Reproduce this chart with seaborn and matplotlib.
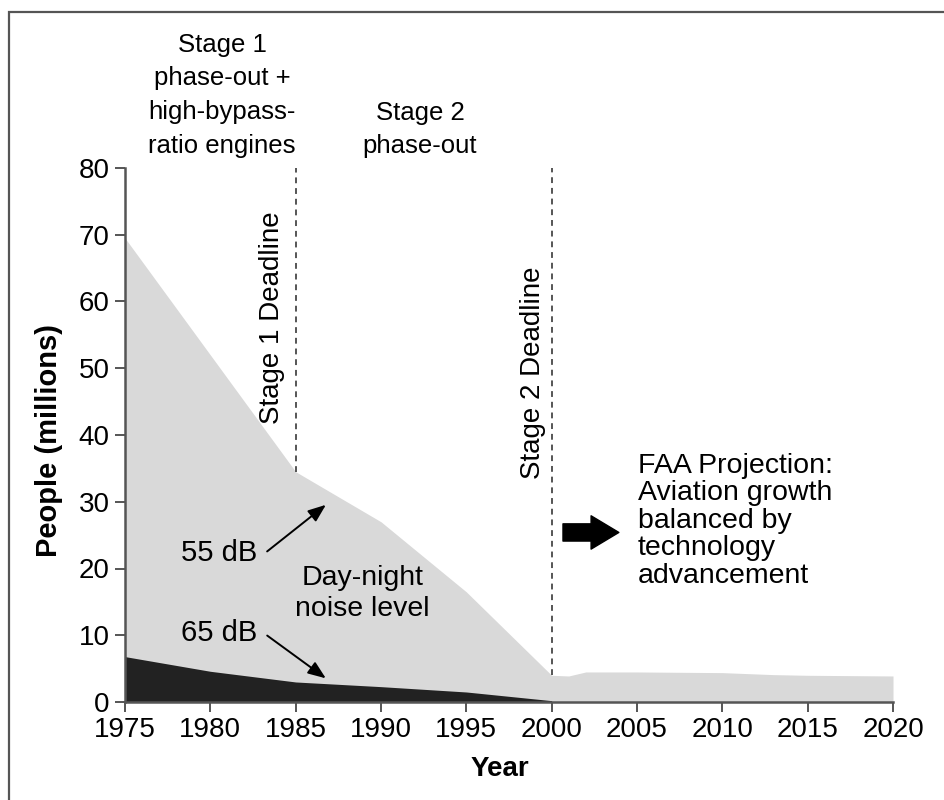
import matplotlib
matplotlib.use("Agg")
import matplotlib.pyplot as plt
from matplotlib.patches import Rectangle
import seaborn as sns

# Data
years_55 = [1975, 1980, 1985, 1990, 1995, 2000, 2001, 2002, 2005, 2010, 2013, 2015, 2020]
people_55 = [69.5, 52.0, 34.5, 27.0, 16.5, 4.0, 3.9, 4.5, 4.5, 4.4, 4.1, 4.0, 3.9]

years_65 = [1975, 1980, 1985, 1990, 1995, 2000]
people_65 = [6.8, 4.6, 3.0, 2.3, 1.5, 0.2]

deadline_years = [1985, 2000]
deadline_tops = [80, 80]
deadline_bottoms = [34.5, 4.0]
deadline_labels = ["Stage 1 Deadline", "Stage 2 Deadline"]

x_ticks = [1975, 1980, 1985, 1990, 1995, 2000, 2005, 2010, 2015, 2020]
y_ticks = [0, 10, 20, 30, 40, 50, 60, 70, 80]

sns.set_theme(style="ticks")
plt.rcParams["font.family"] = ["Liberation Sans", "DejaVu Sans"]
plt.rcParams["text.color"] = "black"
plt.rcParams["axes.labelcolor"] = "black"
plt.rcParams["xtick.color"] = "#555555"
plt.rcParams["ytick.color"] = "#555555"
plt.rcParams["xtick.labelcolor"] = "black"
plt.rcParams["ytick.labelcolor"] = "black"

fig = plt.figure(figsize=(9.44, 8), dpi=100)
ax = fig.add_axes([125 / 944, 1 - 702 / 800, 768 / 944, 534 / 800])

light = "#d9d9d9"
dark = "#222222"

ax.fill_between(years_55, 0, people_55, color=light, linewidth=0)
ax.fill_between(years_65, 0, people_65, color=dark, linewidth=0)

for yr, top, bot in zip(deadline_years, deadline_tops, deadline_bottoms):
    ax.plot([yr, yr], [bot, top], color="#555555", lw=1.4, ls=(0, (3, 2.5)))

ax.text(1983.6, 57.5, deadline_labels[0], rotation=90, ha="center", va="center", fontsize=20)
ax.text(1998.9, 49.3, deadline_labels[1], rotation=90, ha="center", va="center", fontsize=20)

ax.set_xlim(1975, 2020)
ax.set_ylim(0, 80)
ax.set_xticks(x_ticks)
ax.set_yticks(y_ticks)
ax.tick_params(axis="both", labelsize=20, length=7, width=1.4, pad=4)
for s in ["left", "bottom"]:
    ax.spines[s].set_color("#555555")
    ax.spines[s].set_linewidth(1.8)
sns.despine(ax=ax)

ax.set_xlabel("Year", fontsize=20, fontweight="bold")
ax.set_ylabel("People (millions)", fontsize=21, fontweight="bold")
ax.xaxis.set_label_coords(0.488, -0.102)
ax.yaxis.set_label_coords(-0.081, 0.49)

# annotations
arrow_thin = dict(arrowstyle="-|>,head_length=0.9,head_width=0.35", color="black", lw=1.4)
ax.text(1982.75, 22.3, "55 dB", ha="right", va="center", fontsize=21)
ax.annotate("", xy=(1986.9, 29.8), xytext=(1983.2, 22.3), arrowprops=arrow_thin)
ax.text(1982.75, 10.4, "65 dB", ha="right", va="center", fontsize=21)
ax.annotate("", xy=(1986.9, 3.3), xytext=(1983.2, 10.2), arrowprops=arrow_thin)
ax.text(1988.9, 16.2, "Day-night\nnoise level", ha="center", va="center", fontsize=20.5, linespacing=1.25)

ax.annotate("", xy=(2004.1, 25.4), xytext=(2000.5, 25.4),
            arrowprops=dict(arrowstyle="simple,head_length=1.0,head_width=1.2,tail_width=0.62",
                            mutation_scale=20, color="black"))
ax.text(2005.05, 37.3, "FAA Projection:\nAviation growth\nbalanced by\ntechnology\nadvancement",
        ha="left", va="top", fontsize=20.5, linespacing=1.07)

# stage headings above the plot
fig.text(222 / 944, 1 - 33 / 800, "Stage 1\nphase-out +\nhigh-bypass-\nratio engines",
         ha="center", va="top", fontsize=18.5, linespacing=1.5)
fig.text(420 / 944, 1 - 101 / 800, "Stage 2\nphase-out",
         ha="center", va="top", fontsize=18.5, linespacing=1.5)

# frame around the figure
fig.patches.append(Rectangle((9 / 944, -0.1), 1.2, 1 - 12 / 800 + 0.1, transform=fig.transFigure,
                             fill=False, edgecolor="#555555", lw=1.6, clip_on=False))

fig.savefig("out.png", dpi=100)
